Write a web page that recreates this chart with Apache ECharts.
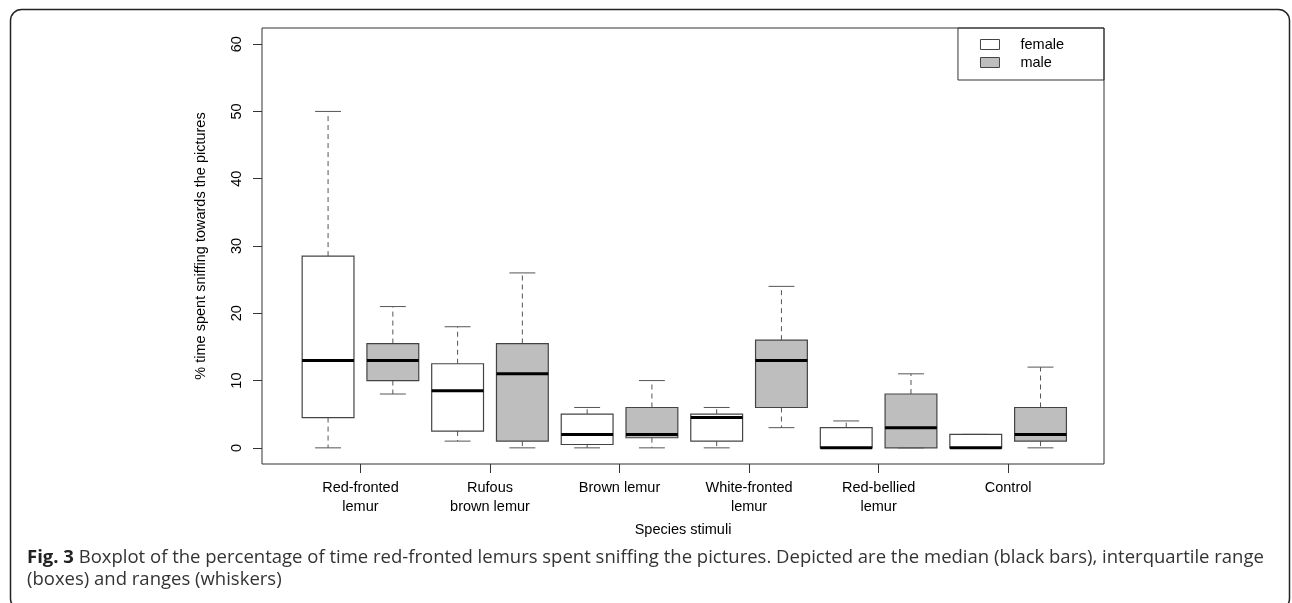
<!DOCTYPE html>
<html><head><meta charset="utf-8">
<script src="https://cdn.jsdelivr.net/npm/echarts@6/dist/echarts.min.js"></script>
<style>html,body{margin:0;padding:0;background:#fff}#c{width:1292px;height:603px}</style>
</head><body><div id="c"></div>
<script>
const categories = ['Red-fronted\nlemur', 'Rufous\nbrown lemur', 'Brown lemur', 'White-fronted\nlemur', 'Red-bellied\nlemur', 'Control'];
const femaleMin    = [0,    1,    0,   0,   0, 0];
const femaleQ1     = [4.5,  2.5,  0.5, 1,   0, 0];
const femaleMedian = [13,   8.5,  2,   4.5, 0, 0];
const femaleQ3     = [28.5, 12.5, 5,   5,   3, 2];
const femaleMax    = [50,   18,   6,   6,   4, 2];
const maleMin      = [8,    0,    0,   3,   0, 0];
const maleQ1       = [10,   1,    1.5, 6,   0, 1];
const maleMedian   = [13,   11,   2,   13,  3, 2];
const maleQ3       = [15.5, 15.5, 6,   16,  8, 6];
const maleMax      = [21,   26,   10,  24,  11, 12];
const yTicks = [0, 10, 20, 30, 40, 50, 60];
const yTitle = '% time spent sniffing towards the pictures';
const xTitle = 'Species stimuli';
const captionLine1 = 'Boxplot of the percentage of time red-fronted lemurs spent sniffing the pictures. Depicted are the median (black bars), interquartile range';
const captionLine2 = '(boxes) and ranges (whiskers)';

const FONT = 'Liberation Sans, Arial, sans-serif';
const FS = 14.5;
const catPos = categories.map((c, i) => 2 * i + 1.5);

function makeData(mins, q1s, meds, q3s, maxs, offset) {
  return categories.map((c, i) => [2 * i + offset, mins[i], q1s[i], meds[i], q3s[i], maxs[i]]);
}

function renderBox(params, api) {
  const x = api.value(0);
  const lo = api.coord([x, api.value(1)]);
  const q1 = api.coord([x, api.value(2)]);
  const md = api.coord([x, api.value(3)]);
  const q3 = api.coord([x, api.value(4)]);
  const hi = api.coord([x, api.value(5)]);
  const w = api.size([0.8, 0])[0];
  const cx = lo[0];
  const half = w / 2, cap = w / 4;
  const fill = api.visual('color');
  const dash = { stroke: '#555', lineWidth: 1, lineDash: [5, 4], fill: null };
  const solid = { stroke: '#555', lineWidth: 1, fill: null };
  const ch = [];
  ch.push({ type: 'line', shape: { x1: cx, y1: q3[1], x2: cx, y2: hi[1] }, style: dash });
  ch.push({ type: 'line', shape: { x1: cx - cap, y1: hi[1], x2: cx + cap, y2: hi[1] }, style: solid });
  ch.push({ type: 'line', shape: { x1: cx, y1: q1[1], x2: cx, y2: lo[1] }, style: dash });
  ch.push({ type: 'line', shape: { x1: cx - cap, y1: lo[1], x2: cx + cap, y2: lo[1] }, style: solid });
  ch.push({ type: 'rect', shape: { x: cx - half, y: q3[1], width: w, height: q1[1] - q3[1] }, style: { fill: fill, stroke: '#444', lineWidth: 1.2 } });
  ch.push({ type: 'line', shape: { x1: cx - half, y1: md[1], x2: cx + half, y2: md[1] }, style: { stroke: '#000', lineWidth: 3 } });
  return { type: 'group', children: ch };
}

const chart = echarts.init(document.getElementById('c'), null, { renderer: 'canvas' });
chart.setOption({
  animation: false,
  backgroundColor: '#fff',
  grid: { left: 262, top: 28, width: 842, height: 436, show: true, borderColor: '#333', borderWidth: 1, backgroundColor: 'transparent' },
  legend: {
    orient: 'vertical', right: 188, top: 28,
    borderColor: '#333', borderWidth: 1, padding: [9, 40, 10, 22],
    itemWidth: 19, itemHeight: 10, itemGap: 3,
    textStyle: { fontSize: FS, lineHeight: 14, color: '#000', fontFamily: FONT, padding: [0, 0, 0, 16] },
    data: [
      { name: 'female', icon: 'rect', itemStyle: { color: '#fff', borderColor: '#444', borderWidth: 1 } },
      { name: 'male', icon: 'rect', itemStyle: { color: '#bebebe', borderColor: '#444', borderWidth: 1 } }
    ]
  },
  xAxis: {
    type: 'value', min: -0.02, max: 12.98,
    splitLine: { show: false }, axisLine: { show: false, onZero: false },
    axisTick: { show: true, inside: false, customValues: catPos, length: 9, lineStyle: { color: '#333' } },
    axisLabel: {
      customValues: catPos, formatter: v => categories[Math.round((v - 1.5) / 2)],
      fontSize: FS, lineHeight: 19, color: '#000', fontFamily: FONT, margin: 14
    },
    name: xTitle, nameLocation: 'middle', nameGap: 58,
    nameTextStyle: { fontSize: FS, color: '#000', fontFamily: FONT }
  },
  yAxis: {
    type: 'value', min: -2.4, max: 62.4,
    splitLine: { show: false }, axisLine: { show: false, onZero: false },
    axisTick: { show: true, inside: false, customValues: yTicks, length: 9, lineStyle: { color: '#333' } },
    axisLabel: { customValues: yTicks, rotate: 90, margin: 18, fontSize: FS, color: '#000', fontFamily: FONT },
    name: yTitle, nameLocation: 'middle', nameGap: 54, nameRotate: 90,
    nameTextStyle: { fontSize: FS, color: '#000', fontFamily: FONT }
  },
  series: [
    { name: 'female', type: 'custom', renderItem: renderBox, itemStyle: { color: '#fff' },
      encode: { x: 0, y: [1, 2, 3, 4, 5] }, data: makeData(femaleMin, femaleQ1, femaleMedian, femaleQ3, femaleMax, 1) },
    { name: 'male', type: 'custom', renderItem: renderBox, itemStyle: { color: '#bebebe' },
      encode: { x: 0, y: [1, 2, 3, 4, 5] }, data: makeData(maleMin, maleQ1, maleMedian, maleQ3, maleMax, 2) }
  ],
  graphic: [
    { type: 'rect', silent: true, shape: { x: 10.5, y: 9.5, width: 1279, height: 600, r: 11 }, style: { fill: null, stroke: '#222', lineWidth: 1.5 } },
    { type: 'text', silent: true, style: {
        x: 27, y: 558, verticalAlign: 'middle',
        text: '{b|Fig. 3} ' + captionLine1,
        fontFamily: 'Open Sans', fontSize: 18.5, fill: '#333',
        rich: { b: { fontFamily: 'Open Sans', fontSize: 18.5, fontWeight: 'bold', fill: '#222' } }
    } },
    { type: 'text', silent: true, style: {
        x: 27, y: 580, verticalAlign: 'middle',
        text: captionLine2, fontFamily: 'Open Sans', fontSize: 18.5, fill: '#333'
    } }
  ]
});
</script>
</body></html>
